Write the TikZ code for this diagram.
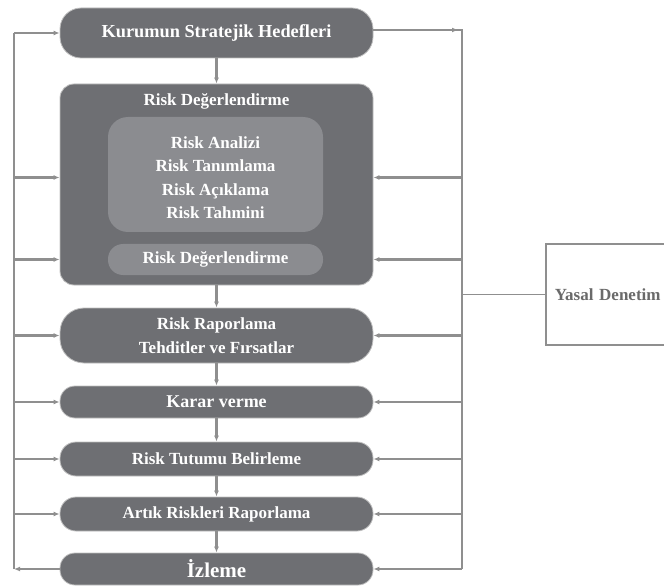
\documentclass[tikz,border=0pt]{standalone}
\usepackage{fontspec}
\setmainfont{Liberation Serif}
\usetikzlibrary{arrows.meta,calc}
\definecolor{boxgray}{HTML}{6E6F73}
\definecolor{innergray}{HTML}{8B8C90}
\definecolor{linegray}{HTML}{8F8F8F}
\definecolor{txtgray}{HTML}{6A6A6A}
\begin{document}
\begin{tikzpicture}[x=1pt,y=-1pt,
  pill/.style={fill=boxgray,draw=gray!50,line width=0.8pt,minimum width=313pt,text=white,font=\bfseries\fontsize{17}{19}\selectfont,align=center,inner sep=0pt},
  conn/.style={draw=linegray,line width=2.4pt},
  arr/.style={conn,-{Latex[length=6pt,width=5pt]}},
  ]
\useasboundingbox (0,0) rectangle (664,588);
% boxes
\node[pill,minimum height=50pt,rounded corners=21pt,font=\bfseries\fontsize{18.3}{20}\selectfont] (top) at (216.5,33) {Kurumun Stratejik Hedefleri};
\node[pill,minimum height=201pt,rounded corners=14pt] (big) at (216.5,184.5) {};
\node[text=white,font=\bfseries\fontsize{17}{19}\selectfont] (bigtitle) at (216.5,101) {Risk Değerlendirme};
\node[fill=innergray,rounded corners=20pt,minimum width=215pt,minimum height=115pt] (inner) at (215.5,174.5) {};
\node[text=white,align=center,font=\bfseries\fontsize{17}{23.5}\selectfont] (innertext) at (215.5,177.5) {Risk Analizi\\Risk Tanımlama\\Risk Açıklama\\Risk Tahmini};
\node[fill=innergray,rounded corners=15pt,minimum width=215pt,minimum height=31pt,text=white,font=\bfseries\fontsize{17}{19}\selectfont] (lower) at (215.5,259.5) {Risk Değerlendirme};
\node[pill,minimum height=55pt,rounded corners=24pt,font=\bfseries\fontsize{17}{24}\selectfont] (rap) at (216.5,335.5) {Risk Raporlama\\Tehditler ve Fırsatlar};
\node[pill,minimum height=32pt,rounded corners=15pt,font=\bfseries\fontsize{18}{20}\selectfont] (karar) at (216.5,402) {Karar verme};
\node[pill,minimum height=34pt,rounded corners=16pt] (tutum) at (216.5,459) {Risk Tutumu Belirleme};
\node[pill,minimum height=34pt,rounded corners=16pt] (artik) at (216.5,514) {Artık Riskleri Raporlama};
\node[pill,minimum height=32pt,rounded corners=15pt,font=\bfseries\fontsize{21}{23}\selectfont] (izleme) at (216.5,569) {İzleme};
\node[draw=linegray,line width=1.6pt,minimum width=130pt,minimum height=101pt,anchor=west,text=txtgray,font=\bfseries\fontsize{17}{19}\selectfont,text width=115pt,inner xsep=9pt,align=left] (yasal) at (545,294.5) {Yasal Denetim};
% vertical flow
\draw[arr] (top.south) -- (big.north);
\draw[arr] (big.south) -- (rap.north);
\draw[arr] (rap.south) -- (karar.north);
\draw[arr] (karar.south) -- (tutum.north);
\draw[arr] (tutum.south) -- (artik.north);
\draw[arr] (artik.south) -- (izleme.north);
% left feedback line
\coordinate (LT) at (14,33);
\coordinate (LB) at (14,569);
\draw[arr] (izleme.west) -- (LB);
\draw[conn] (LB) -- (LT);
\draw[arr] (LT) -- (top.west);
\draw[arr] (LT |- innertext.center) -- (big.west |- innertext.center);
\draw[arr] (LT |- lower.center) -- (big.west |- lower.center);
\draw[arr] (LT |- rap.west) -- (rap.west);
\draw[arr] (LT |- karar.west) -- (karar.west);
\draw[arr] (LT |- tutum.west) -- (tutum.west);
\draw[arr] (LT |- artik.west) -- (artik.west);
% right line
\coordinate (RT) at (462,30);
\coordinate (RB) at (462,569);
\draw[conn] (top.east |- RT) -- (RT) -- (RB);
\draw[arr] (top.east |- RT) -- ($(RT)+(-4,0)$);
\draw[arr] (RT |- innertext.center) -- (big.east |- innertext.center);
\draw[arr] (RT |- lower.center) -- (big.east |- lower.center);
\draw[arr] (RT |- rap.east) -- (rap.east);
\draw[arr] (RT |- karar.east) -- (karar.east);
\draw[arr] (RT |- tutum.east) -- (tutum.east);
\draw[arr] (RT |- artik.east) -- (artik.east);
\draw[arr] (RB) -- (izleme.east);
\draw[draw=linegray,line width=1.4pt] (RT |- yasal.west) -- (yasal.west);
\end{tikzpicture}
\end{document}
